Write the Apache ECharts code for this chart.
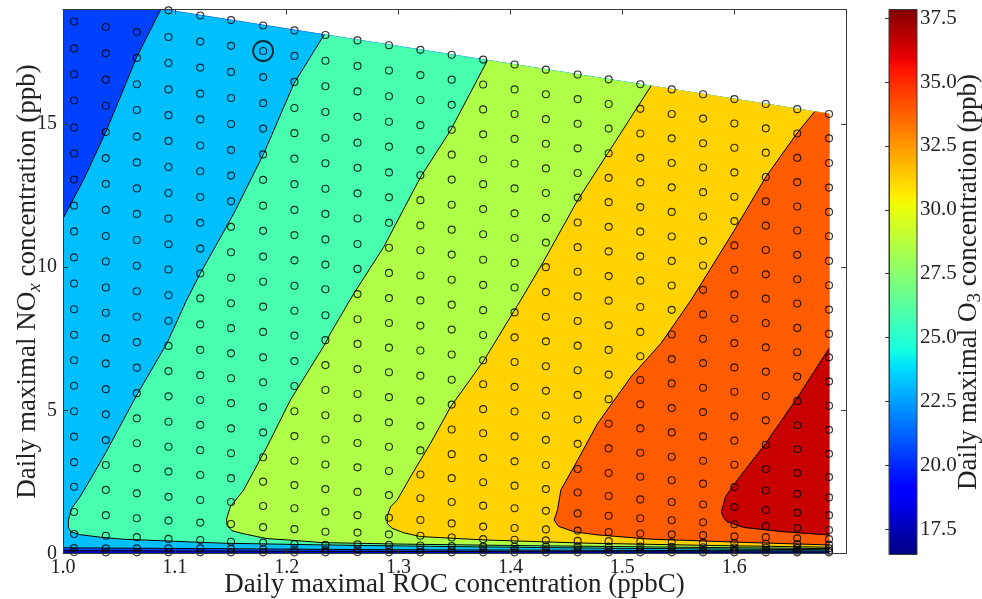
<!DOCTYPE html>
<html><head><meta charset="utf-8">
<script src="https://cdn.jsdelivr.net/npm/echarts@6/dist/echarts.min.js"></script>
<style>html,body{margin:0;padding:0;background:#fff}#c{width:982px;height:599px}</style>
</head><body><div id="c"></div>
<script>
// ---------- DATA ----------
const rocColumns = [1.0099,1.0383,1.0660,1.0943,1.1227,1.1502,1.1789,1.2069,1.2346,1.2633,1.2914,1.3195,1.3475,1.3756,1.4037,1.4317,1.4601,1.4878,1.5161,1.5442,1.5722,1.6002,1.6283,1.6564,1.6848];
const noxColumns = [
 [19.49,18.58,17.64,16.74,15.82,14.88,13.97,13.06,12.15,11.25,10.34,9.43,8.53,7.64,6.75,5.86,4.97,4.08,3.19,2.33,1.45,0.68,0.19,0.05],
 [19.32,18.39,17.47,16.55,15.64,14.72,13.81,12.91,12.00,11.09,10.20,9.29,8.41,7.52,6.64,5.74,4.86,3.96,3.09,2.22,1.34,0.62,0.18,0.04],
 [19.15,18.21,17.31,16.39,15.49,14.56,13.66,12.75,11.86,10.95,10.05,9.16,8.27,7.38,6.49,5.60,4.72,3.85,2.98,2.10,1.23,0.57,0.18,0.04],
 [18.97,18.04,17.13,16.21,15.31,14.41,13.50,12.59,11.70,10.80,9.92,9.02,8.13,7.25,6.37,5.49,4.60,3.73,2.86,1.98,1.15,0.51,0.18,0.04],
 [18.79,17.88,16.97,16.06,15.16,14.25,13.35,12.45,11.55,10.65,9.78,8.91,8.00,7.11,6.23,5.36,4.49,3.61,2.74,1.87,1.08,0.47,0.18,0.04],
 [18.63,17.73,16.82,15.91,15.00,14.09,13.20,12.30,11.41,10.52,9.63,8.74,7.87,6.99,6.12,5.25,4.37,3.50,2.63,1.80,1.03,0.41,0.16,0.04],
 [18.44,17.55,16.64,15.73,14.84,13.94,13.05,12.15,11.27,10.37,9.49,8.62,7.74,6.85,5.98,5.11,4.23,3.36,2.51,1.66,0.92,0.38,0.15,0.04],
 [18.27,17.38,16.47,15.56,14.68,13.79,12.90,12.00,11.12,10.24,9.35,8.48,7.61,6.72,5.85,4.97,4.10,3.24,2.39,1.58,0.85,0.33,0.15,0.04],
 [18.11,17.21,16.32,15.42,14.52,13.63,12.74,11.86,10.97,10.09,9.23,8.32,7.45,6.58,5.71,4.83,3.98,3.11,2.25,1.46,0.76,0.30,0.12,0.04],
 [17.92,17.03,16.14,15.25,14.35,13.47,12.58,11.70,10.81,9.94,9.06,8.18,7.32,6.44,5.57,4.72,3.86,3.01,2.15,1.34,0.73,0.32,0.15,0.05],
 [17.75,16.87,15.97,15.08,14.21,13.31,12.44,11.55,10.68,9.80,8.92,8.05,7.19,6.33,5.46,4.58,3.73,2.88,2.04,1.25,0.67,0.30,0.14,0.04],
 [17.59,16.71,15.84,14.96,14.09,13.21,12.34,11.46,10.59,9.71,8.84,7.96,7.09,6.21,5.34,4.46,3.60,2.76,1.93,1.17,0.62,0.28,0.13,0.04],
 [17.42,16.55,15.67,14.80,13.93,13.06,12.18,11.31,10.44,9.56,8.69,7.82,6.95,6.07,5.20,4.33,3.47,2.63,1.80,1.05,0.56,0.26,0.12,0.04],
 [17.25,16.38,15.51,14.64,13.77,12.90,12.03,11.15,10.26,9.38,8.50,7.63,6.75,5.91,5.04,4.20,3.34,2.49,1.67,0.94,0.50,0.24,0.12,0.04],
 [17.08,16.21,15.35,14.48,13.62,12.75,11.88,11.02,10.15,9.29,8.42,7.55,6.69,5.82,4.96,4.09,3.22,2.37,1.58,0.89,0.48,0.24,0.12,0.04],
 [16.90,16.04,15.17,14.31,13.45,12.59,11.72,10.86,10.00,9.13,8.27,7.41,6.54,5.68,4.82,3.97,3.09,2.25,1.49,0.84,0.46,0.24,0.12,0.04],
 [16.73,15.87,15.01,14.15,13.29,12.43,11.56,10.70,9.84,8.98,8.12,7.26,6.40,5.54,4.68,3.83,2.95,2.13,1.40,0.80,0.44,0.24,0.12,0.04],
 [16.56,15.70,14.84,13.98,13.12,12.27,11.41,10.55,9.69,8.83,7.97,7.11,6.25,5.39,4.53,3.67,2.81,2.01,1.32,0.75,0.43,0.24,0.12,0.04],
 [16.39,15.53,14.67,13.82,12.96,12.10,11.24,10.38,9.53,8.61,7.74,6.89,6.06,5.21,4.37,3.52,2.68,1.89,1.23,0.70,0.41,0.24,0.12,0.04],
 [16.21,15.35,14.50,13.64,12.79,11.93,11.07,10.22,9.36,8.51,7.65,6.79,5.94,5.08,4.23,3.38,2.56,1.80,1.16,0.67,0.39,0.23,0.12,0.04],
 [16.04,15.19,14.33,13.48,12.62,11.77,10.92,10.06,9.21,8.35,7.50,6.65,5.79,4.94,4.09,3.24,2.44,1.71,1.09,0.64,0.37,0.22,0.11,0.04],
 [15.87,15.02,14.17,13.31,12.46,11.61,10.76,9.91,9.05,8.20,7.35,6.50,5.65,4.79,3.94,3.10,2.32,1.62,1.02,0.60,0.36,0.21,0.11,0.04],
 [15.70,14.85,14.00,13.15,12.30,11.45,10.60,9.75,8.90,8.05,7.20,6.35,5.50,4.65,3.80,2.95,2.20,1.52,0.96,0.57,0.34,0.20,0.11,0.04],
 [15.52,14.67,13.82,12.97,12.12,11.28,10.43,9.58,8.73,7.88,7.03,6.18,5.33,4.48,3.64,2.81,2.08,1.43,0.89,0.53,0.33,0.19,0.10,0.04],
 [15.35,14.50,13.64,12.78,11.93,11.08,10.22,9.37,8.52,7.67,6.85,6.01,5.16,4.32,3.48,2.67,1.96,1.34,0.82,0.50,0.31,0.18,0.10,0.04]
];
const highlightPoint = [1.1789, 17.55];

// edge of the sampled region (top line, left/right edges)
const regionTop = [[1.0, 19.55], [1.6848, 15.35]];
const regionLeft = 1.0, regionRight = 1.6848, regionBottom = 0;

// contour lines (ROC, NOx), from the low-O3 side to the high-O3 side
const contourLevel0 = [[1.0,0.10],[1.3,0.07],[1.6848,0.05]];
const contourLevel1Upper = [[1.0875,19.01],[1.0659,17.34],[1.0382,14.72],[1.0182,13.04],[1.0,11.70]];
const contourLevel1Lower = [[1.0,0.20],[1.3,0.13],[1.6848,0.09]];
const contourLevel2 = [[1.2335,18.12],[1.2064,16.41],[1.1795,13.97],[1.1526,11.87],[1.1227,9.78],[1.1105,8.85],[1.0929,7.34],[1.0659,5.53],[1.0382,3.52],[1.0242,2.57],[1.0152,1.98],[1.0078,1.58],[1.0050,1.20],[1.0048,0.92],[1.0070,0.76],[1.0150,0.66],[1.0331,0.57],[1.0529,0.50],[1.1425,0.36],[1.2321,0.30],[1.35,0.24],[1.5,0.18],[1.6848,0.13]];
const contourLevel3 = [[1.3794,17.22],[1.3465,14.78],[1.3197,13.15],[1.2868,10.71],[1.2600,9.08],[1.2391,7.69],[1.2346,7.34],[1.2033,5.36],[1.1824,3.73],[1.1615,2.22],[1.1496,1.63],[1.1462,1.20],[1.1466,0.99],[1.1510,0.80],[1.1600,0.70],[1.1824,0.52],[1.2018,0.47],[1.2317,0.38],[1.3,0.33],[1.4,0.28],[1.55,0.22],[1.6848,0.17]];
const contourLevel4 = [[1.5257,16.33],[1.4869,13.97],[1.4601,12.34],[1.4302,10.24],[1.4092,8.85],[1.3764,6.75],[1.3465,5.12],[1.3286,3.85],[1.3107,2.68],[1.2988,1.87],[1.2928,1.63],[1.2900,1.30],[1.2898,1.05],[1.2943,0.88],[1.3050,0.72],[1.3197,0.59],[1.3790,0.47],[1.4690,0.36],[1.58,0.28],[1.6848,0.22]];
const contourLevel5 = [[1.6719,15.43],[1.6570,14.72],[1.6283,13.15],[1.6002,11.29],[1.5615,8.85],[1.5346,7.34],[1.5078,6.17],[1.4779,4.54],[1.4601,3.26],[1.4451,2.22],[1.4421,1.52],[1.4391,1.17],[1.4430,0.95],[1.4570,0.76],[1.4779,0.65],[1.5257,0.50],[1.6152,0.38],[1.6848,0.30]];
const contourLevel6 = [[1.6848,7.16],[1.6570,5.47],[1.6283,3.85],[1.6029,2.57],[1.5922,1.98],[1.5886,1.46],[1.5905,1.25],[1.5937,1.11],[1.6086,0.91],[1.6445,0.76],[1.6848,0.65]];

const colorbarMin = 16.51, colorbarMax = 37.84;
const colorbarTicks = [17.5, 20.0, 22.5, 25.0, 27.5, 30.0, 32.5, 35.0, 37.5];
const xTickValues = [1.0, 1.1, 1.2, 1.3, 1.4, 1.5, 1.6];
const yTickValues = [0, 5, 10, 15];

// ---------- STYLE ----------
const bandColors = ['#0000c8','#0040ff','#00bfff','#48ffaf','#afff48','#ffd200','#ff5c00','#c80000'];
const FONT = "'Liberation Serif','DejaVu Serif',serif";
const TXT = '#222';
const FRAME = '#3a3a3a';

function jet(t){
  function seg(pts){ for(let i=1;i<pts.length;i++){ if(t<=pts[i][0]){ const a=pts[i-1],b=pts[i]; return a[1]+(b[1]-a[1])*(t-a[0])/(b[0]-a[0]); } } return pts[pts.length-1][1]; }
  const r=seg([[0,0],[0.35,0],[0.66,1],[0.89,1],[1,0.5]]);
  const g=seg([[0,0],[0.125,0],[0.375,1],[0.64,1],[0.91,0],[1,0]]);
  const b=seg([[0,0.5],[0.11,1],[0.34,1],[0.65,0],[1,0]]);
  return 'rgb('+Math.round(r*255)+','+Math.round(g*255)+','+Math.round(b*255)+')';
}
const jetStops = [0,0.11,0.125,0.34,0.35,0.375,0.64,0.65,0.66,0.89,0.91,1].map(o=>({offset:o,color:jet(o)}));

// ---------- BUILD ----------
const TL = regionTop[0], TR = regionTop[1];
const polygons = [
  {pts:[[regionLeft,regionBottom],[regionRight,regionBottom],TR,TL], color:bandColors[0]},
  {pts:[...contourLevel0, TR, TL], color:bandColors[1]},
  {pts:[...contourLevel1Upper, ...contourLevel1Lower, TR], color:bandColors[2]},
  {pts:[...contourLevel2, TR], color:bandColors[3]},
  {pts:[...contourLevel3, TR], color:bandColors[4]},
  {pts:[...contourLevel4, TR], color:bandColors[5]},
  {pts:[...contourLevel5, TR], color:bandColors[6]},
  {pts:[...contourLevel6], color:bandColors[7]}
];
const contourLines = [contourLevel0, contourLevel1Upper, contourLevel1Lower, contourLevel2, contourLevel3, contourLevel4, contourLevel5, contourLevel6];

const points = [];
rocColumns.forEach((x,i)=>{ noxColumns[i].forEach(y=>points.push([x,y])); });

const chart = echarts.init(document.getElementById('c'), null, {renderer:'canvas'});

const axisCommon = {
  axisLine:{show:true, onZero:false, lineStyle:{color:FRAME, width:1}},
  splitLine:{show:false}, z:10
};

const option = {
  animation:false,
  backgroundColor:'#fff',
  grid:[
    {left:63, top:9.5, width:783, height:544, outerBoundsMode:'none', containLabel:false},
    {left:889, top:9.5, width:28, height:545, outerBoundsMode:'none', containLabel:false}
  ],
  xAxis:[
    Object.assign({}, axisCommon, {gridIndex:0, type:'value', min:1.0, max:1.7, interval:0.1, position:'bottom',
      axisTick:{show:true, inside:true, length:5, lineStyle:{color:FRAME}, customValues:xTickValues},
      axisLabel:{show:true, customValues:xTickValues, formatter:v=>v.toFixed(1), color:TXT, fontFamily:FONT, fontSize:20, margin:4},
      name:'Daily maximal ROC concentration (ppbC)', nameLocation:'middle', nameGap:18, nameMoveOverlap:false,
      nameTextStyle:{color:TXT, fontFamily:FONT, fontSize:27}}),
    Object.assign({}, axisCommon, {gridIndex:0, type:'value', min:1.0, max:1.7, interval:0.1, position:'top',
      axisTick:{show:true, inside:true, length:5, lineStyle:{color:FRAME}, customValues:xTickValues},
      axisLabel:{show:false}}),
    {gridIndex:1, type:'value', min:0, max:1, show:false}
  ],
  yAxis:[
    Object.assign({}, axisCommon, {gridIndex:0, type:'value', min:0, max:19, interval:5, position:'left',
      axisTick:{show:true, inside:true, length:5, lineStyle:{color:FRAME}, customValues:yTickValues},
      axisLabel:{show:true, customValues:yTickValues, color:TXT, fontFamily:FONT, fontSize:20, margin:6},
      name:'Daily maximal NO{sub|x} concentration (ppb)', nameLocation:'middle', nameGap:19, nameMoveOverlap:false,
      nameTextStyle:{color:TXT, fontFamily:FONT, fontSize:27, lineHeight:32,
        rich:{sub:{fontSize:19, fontStyle:'italic', fontFamily:FONT, color:TXT, verticalAlign:'bottom', lineHeight:32}}}}),
    Object.assign({}, axisCommon, {gridIndex:0, type:'value', min:0, max:19, interval:5, position:'right',
      axisTick:{show:true, inside:true, length:5, lineStyle:{color:FRAME}, customValues:yTickValues},
      axisLabel:{show:false}}),
    {gridIndex:1, type:'value', min:colorbarMin, max:colorbarMax, position:'right', z:10,
      axisLine:{show:true, lineStyle:{color:FRAME, width:1}},
      axisTick:{show:true, inside:true, length:4, lineStyle:{color:FRAME}, customValues:colorbarTicks},
      axisLabel:{show:true, customValues:colorbarTicks, formatter:v=>v.toFixed(1), color:TXT, fontFamily:FONT, fontSize:21, margin:3},
      splitLine:{show:false},
      name:'Daily maximal O{sub|3} concentration (ppb)', nameLocation:'middle', nameGap:36, nameMoveOverlap:false,
      nameTextStyle:{color:TXT, fontFamily:FONT, fontSize:27, lineHeight:32,
        rich:{sub:{fontSize:19, fontFamily:FONT, color:TXT, verticalAlign:'bottom', lineHeight:32}}}}
  ],
  series:[
    {type:'custom', name:'bands', xAxisIndex:0, yAxisIndex:0, clip:true, z:1, silent:true,
      data: polygons.map((p,i)=>[1.3, 5, i]),
      renderItem:(params, api)=>{
        const p = polygons[params.dataIndex];
        return {type:'polygon', shape:{points:p.pts.map(q=>api.coord(q))},
          style:{fill:p.color, stroke:p.color, lineWidth:0.6}};
      }},
    {type:'custom', name:'contours', xAxisIndex:0, yAxisIndex:0, clip:true, z:2, silent:true,
      data: contourLines.map((p,i)=>[1.3, 5, i]),
      renderItem:(params, api)=>{
        const l = contourLines[params.dataIndex];
        return {type:'polyline', shape:{points:l.map(q=>api.coord(q))},
          style:{fill:null, stroke:'#000', lineWidth:1}};
      }},
    {type:'scatter', name:'runs', xAxisIndex:0, yAxisIndex:0, z:3, silent:true,
      symbol:'circle', symbolSize:7, data:points,
      itemStyle:{color:'rgba(0,0,0,0)', borderColor:'#000', borderWidth:1.15}},
    {type:'scatter', name:'selected', xAxisIndex:0, yAxisIndex:0, z:4, silent:true,
      symbol:'circle', symbolSize:20, data:[highlightPoint],
      itemStyle:{color:'rgba(0,0,0,0)', borderColor:'#000', borderWidth:1.8}},
    {type:'custom', name:'colorbar', xAxisIndex:2, yAxisIndex:2, z:1, silent:true,
      data:[[0, colorbarMin]],
      renderItem:(params, api)=>{
        const p0 = api.coord([0, colorbarMin]);
        const p1 = api.coord([1, colorbarMax]);
        return {type:'rect', shape:{x:p0[0], y:p1[1], width:p1[0]-p0[0], height:p0[1]-p1[1]},
          style:{fill:new echarts.graphic.LinearGradient(0,1,0,0, jetStops), stroke:FRAME, lineWidth:1}};
      }}
  ]
};
chart.setOption(option);
</script>
</body></html>
